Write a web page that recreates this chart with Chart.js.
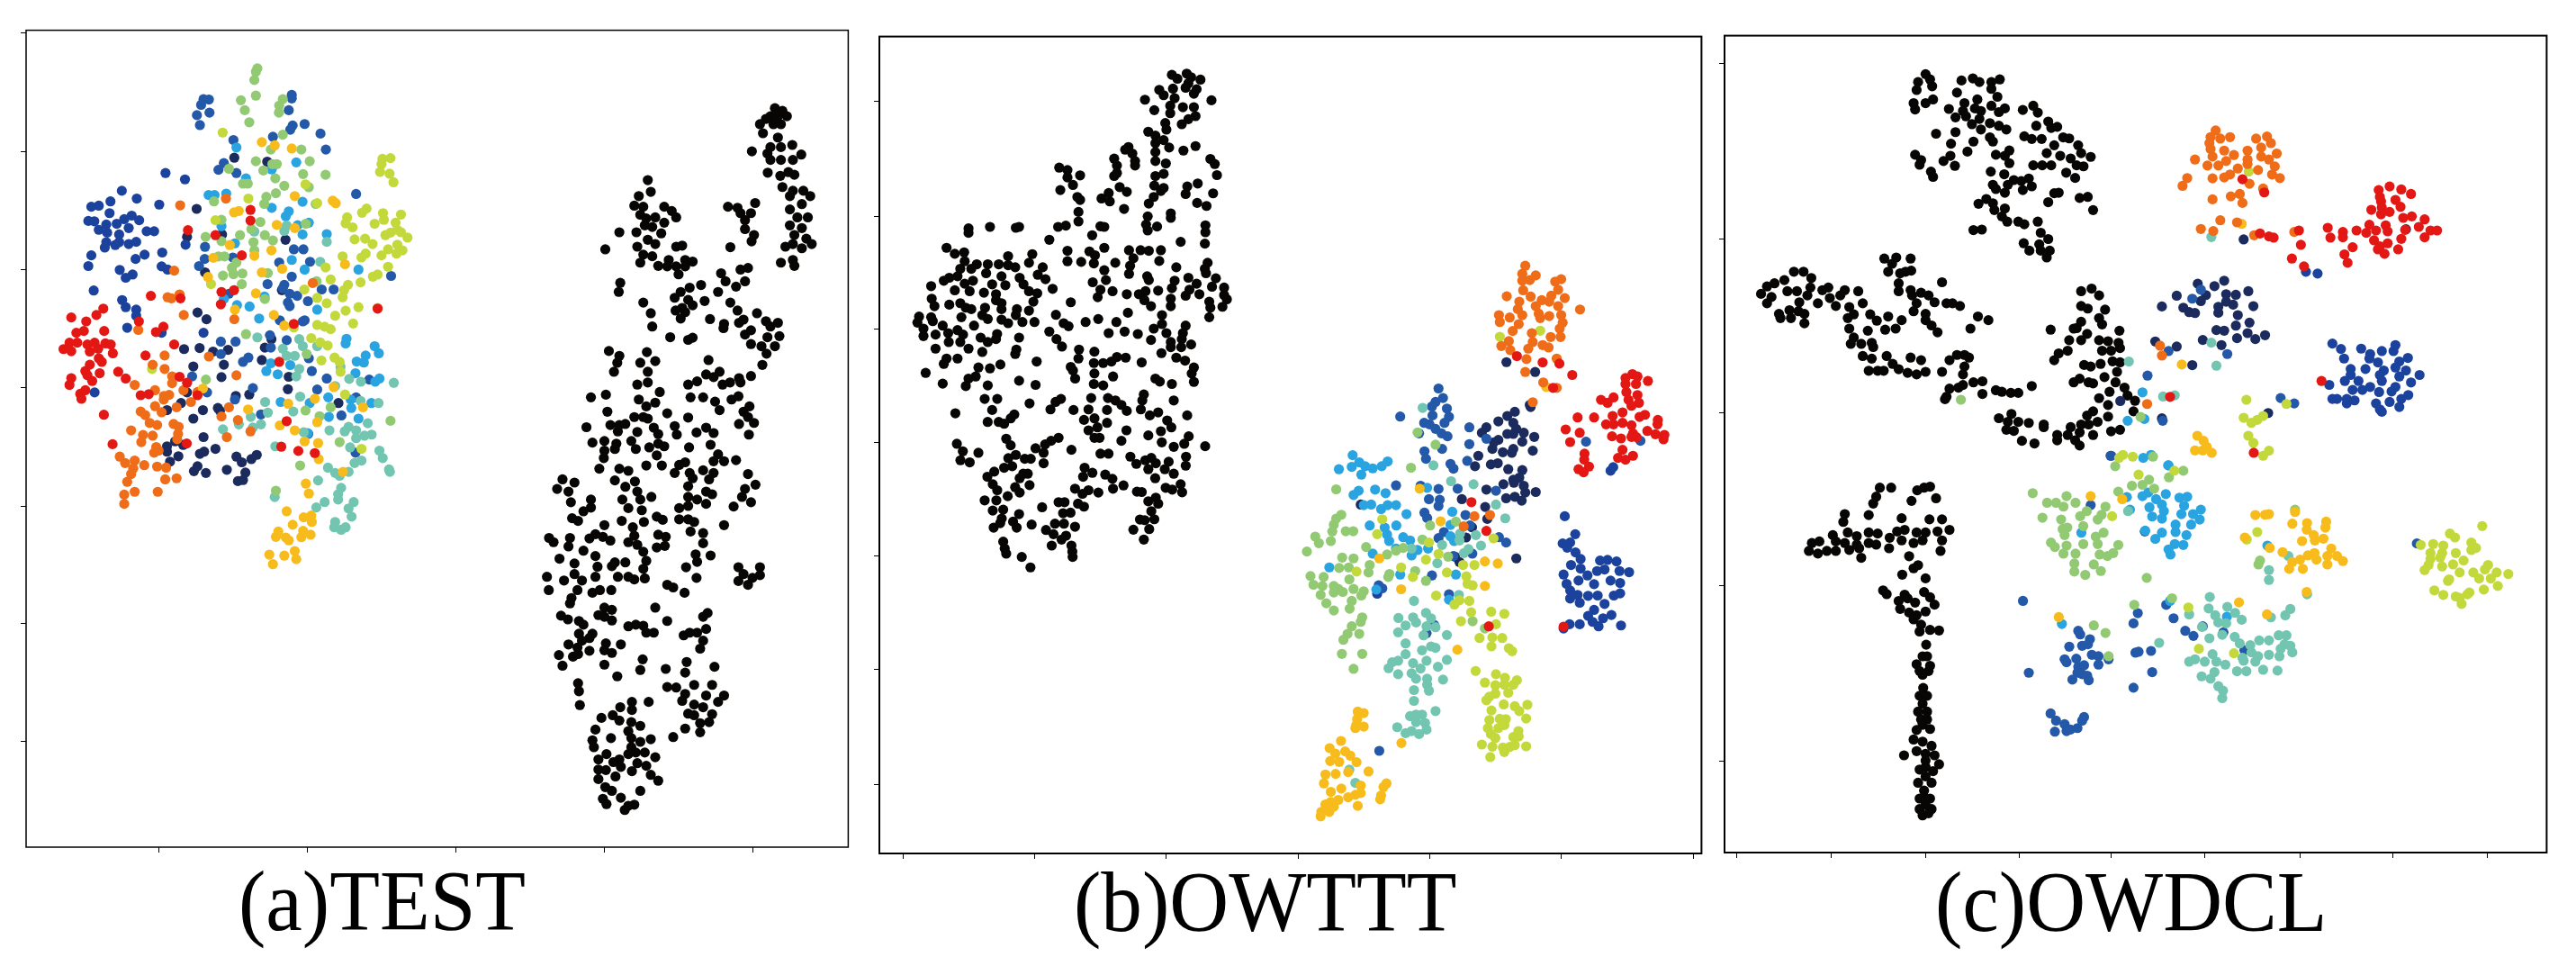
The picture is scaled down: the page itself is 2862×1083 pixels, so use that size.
<!DOCTYPE html>
<html>
<head>
<meta charset="utf-8">
<title>t-SNE comparison</title>
<script src="https://cdn.jsdelivr.net/npm/chart.js@4/dist/chart.umd.min.js"></script>
<style>
  html, body { margin: 0; background: #fff; width: 2862px; height: 1083px; overflow: hidden; }
  .panel { position: absolute; }
  .caption { position: absolute; font-family: "Liberation Serif", serif; font-size: 96px; line-height: 1; color: #000; transform: scaleX(.95); transform-origin: left top; white-space: nowrap; }
</style>
</head>
<body>
<div class="panel"><canvas id="chartA"></canvas></div>
<div class="panel"><canvas id="chartB"></canvas></div>
<div class="panel"><canvas id="chartC"></canvas></div>
<div class="caption" id="capA"></div>
<div class="caption" id="capB"></div>
<div class="caption" id="capC"></div>

<script>
"use strict";

// ---------- Data: readings [x, y] per class, one array per panel and per crop ----------
// (a) TEST
const aRoyal = [[407,480],[369,510],[457,502],[305,525],[330,522],[532,519],[553,430],[618,448],[366,543],[295,565],[315,566],[355,575],[390,573],[415,560],[440,550],[465,563],[430,585],[330,590],[358,598],[398,603],[490,594],[515,594],[398,625],[355,625],[430,630],[455,624],[350,640],[385,633],[305,662],[295,692],[453,672],[483,660],[542,654],[400,703],[443,716],[420,725],[540,693],[560,702],[313,761],[408,788],[420,808],[455,815],[455,832],[425,866],[316,1048],[680,880],[620,632],[540,880]];
const aBlue = [[680,222],[698,223],[672,238],[700,260],[658,267],[668,295],[975,210],[975,220],[965,253],[978,296],[970,308],[1018,292],[1071,319],[912,328],[1089,364],[780,337],[748,402],[730,421],[790,430],[1190,489],[685,638],[684,672],[665,692],[778,668],[933,682],[1036,680],[982,645],[1014,645],[975,722],[894,743],[950,745],[945,755],[968,770],[993,776],[962,795],[968,805],[1029,791],[1075,758],[1115,758],[1307,720],[765,770],[935,845],[1018,845],[1012,848],[738,905],[787,905],[902,887],[958,901],[905,922],[738,940],[830,950],[812,962],[1032,952],[1042,988],[1092,1009],[1234,1012],[845,1036],[1060,1040],[785,1068],[1190,1062],[1141,1113],[872,1110],[1030,1165],[1188,1218],[692,1048],[642,1003]];
const aNavy = [[783,387],[893,398],[657,531],[625,610],[742,603],[954,618],[685,710],[942,760],[660,823],[690,842],[907,898],[885,922],[615,926],[667,923],[712,933],[762,928],[748,970],[875,957],[646,975],[740,1005],[965,1004],[962,1039],[788,1058],[833,1054],[625,1048],[605,1078],[558,1098],[678,1098],[728,1092],[735,1100],[646,1122],[680,1174],[1131,1078],[585,1186],[612,1196],[558,1200],[558,1215],[720,1207],[668,1221],[682,1215],[596,1228],[568,1243],[790,1229],[808,1245],[840,1236],[858,1224],[660,1256],[648,1270],[688,1275],[758,1266],[820,1274],[812,1295],[795,1298]];
const aSky = [[790,358],[990,400],[908,420],[822,445],[697,492],[717,492],[756,488],[1011,511],[908,528],[965,538],[955,552],[740,580],[1032,570],[995,577],[1011,603],[1092,602],[785,628],[975,675],[1018,702],[1198,702],[884,778],[748,785],[792,802],[834,806],[866,840],[1060,815],[1158,897],[1155,910],[1252,918],[1266,938],[1222,944],[1192,961],[1216,964],[905,966],[970,971],[890,988],[928,997],[1188,994],[1268,1009],[1254,1018],[1097,1062],[1172,1068],[1035,1078],[938,1075],[1241,1078],[1174,1092],[1099,1117],[1198,1122],[1028,1163]];
const aTeal = [[850,595],[958,578],[950,593],[1092,624],[1070,680],[860,893],[1000,898],[945,925],[1012,918],[1060,918],[958,945],[985,945],[1000,982],[990,1003],[1138,976],[1167,1010],[1206,1018],[1316,1021],[1120,1030],[1003,1060],[886,1075],[1265,1078],[1205,1072],[980,1102],[895,1105],[838,1117],[872,1138],[845,1147],[798,1138],[745,1152],[1015,1160],[1229,1135],[1101,1155],[1165,1145],[1152,1158],[1190,1155],[1190,1177],[1218,1170],[1242,1167],[1170,1203],[920,1200],[1268,1212],[1279,1233],[1208,1240],[1185,1247],[1300,1265],[1303,1272],[1096,1260],[1120,1275],[1135,1283],[1165,1272],[1063,1296],[1140,1317],[1130,1335],[1130,1350],[1085,1357],[1057,1372],[1182,1357],[1165,1375],[1175,1398],[1120,1413],[1117,1428],[1140,1435],[1155,1428],[918,1343]];
const aGreen = [[860,135],[855,145],[850,168],[855,212],[805,225],[818,253],[833,287],[945,222],[933,240],[932,260],[945,322],[1007,364],[905,364],[855,397],[1035,397],[765,418],[880,423],[910,405],[925,405],[920,445],[1013,433],[1088,435],[812,460],[828,460],[950,466],[1032,470],[922,487],[890,497],[715,510],[883,517],[1055,517],[740,562],[870,568],[1022,573],[840,588],[687,610],[885,605],[802,605],[912,620],[740,622],[847,625],[850,648],[730,665],[750,665],[790,682],[775,697],[895,712],[810,713],[780,715],[745,719],[808,743],[1058,735],[885,785],[822,884],[1025,940],[688,1012],[1105,1090],[1021,1099],[1068,1115],[1305,1128],[1135,1188],[1003,1254],[922,1325]];
const aLime = [[744,316],[1021,462],[830,502],[1060,515],[1278,390],[1305,388],[1275,405],[1270,427],[1302,432],[1315,456],[1225,530],[1210,542],[1160,555],[1155,572],[1178,583],[1280,543],[1340,547],[1283,562],[1252,573],[1322,570],[1328,590],[1305,598],[1288,605],[1340,597],[1362,612],[1185,617],[1220,615],[1245,630],[1328,632],[1297,645],[1345,648],[1325,657],[1275,662],[1222,657],[1208,668],[1145,665],[1088,696],[1297,694],[1262,716],[1246,722],[1105,730],[1205,738],[1163,745],[1150,760],[1145,780],[1017,758],[1060,782],[1092,797],[1155,818],[1198,808],[1120,832],[1262,810],[1180,854],[1060,858],[1085,863],[1105,870],[1040,895],[1070,907],[1095,916],[1118,950],[1135,962],[1074,958],[1138,990],[508,982],[705,743],[720,563],[1153,1054],[1208,1207],[982,865]];
const aYellow = [[875,343],[918,352],[975,361],[985,495],[1112,508],[1122,515],[782,541],[798,537],[925,576],[985,585],[768,633],[850,663],[907,648],[713,669],[1153,687],[943,700],[875,710],[695,723],[855,769],[785,815],[915,830],[950,860],[678,1037],[1115,1033],[1052,1066],[963,1080],[829,1096],[1213,1090],[1060,1132],[935,1141],[985,1155],[1018,1186],[1063,1191],[1065,1236],[1146,1272],[1022,1305],[1032,1333],[958,1383],[1040,1395],[1015,1400],[1042,1413],[978,1421],[930,1440],[1013,1438],[1038,1449],[922,1455],[1007,1456],[955,1457],[965,1465],[985,1495],[900,1505],[950,1508],[990,1518],[912,1532]];
const aOrange = [[755,502],[602,521],[582,705],[600,772],[560,780],[573,783],[614,830],[783,842],[462,872],[1045,740],[510,970],[550,944],[698,947],[550,982],[790,1000],[575,1003],[575,1022],[450,1027],[518,1042],[613,1042],[660,1047],[565,1055],[548,1058],[547,1068],[638,1075],[518,1087],[765,1090],[590,1090],[470,1102],[485,1112],[540,1104],[740,1116],[795,1126],[500,1134],[525,1140],[580,1137],[597,1145],[837,1158],[438,1155],[595,1165],[592,1180],[478,1168],[510,1170],[472,1188],[758,1174],[522,1202],[530,1212],[515,1218],[400,1229],[418,1247],[450,1240],[445,1262],[482,1253],[525,1257],[555,1260],[438,1278],[590,1290],[552,1293],[425,1300],[450,1328],[527,1328],[415,1336],[415,1362]];
const aRed = [[837,534],[837,564],[628,591],[720,605],[808,662],[740,765],[782,760],[738,800],[504,776],[603,783],[345,812],[322,830],[238,837],[288,848],[464,848],[348,875],[280,875],[255,880],[546,863],[521,878],[1262,812],[982,855],[582,913],[258,908],[232,908],[212,926],[238,932],[292,913],[316,908],[352,910],[370,913],[300,933],[328,925],[377,938],[486,944],[330,952],[340,962],[300,970],[285,988],[333,994],[292,1000],[395,990],[420,1009],[308,1016],[238,1008],[232,1027],[600,1004],[625,1021],[285,1042],[268,1052],[272,1066],[470,1056],[497,1053],[660,1056],[933,962],[347,1111],[958,1129],[376,1194],[624,1192],[940,1201],[997,1213],[1052,1219]];
const aBlack = [[1090,165],[1115,170],[1075,180],[1100,180],[1130,180],[1060,185],[1040,195],[1085,195],[1110,195],[1050,212],[1100,220],[1013,246],[1075,238],[1110,238],[1148,234],[1065,250],[1075,262],[1110,262],[1150,262],[1178,252],[1066,286],[1108,292],[1135,285],[1155,290],[1115,313],[1140,330],[1150,320],[1185,320],[1208,330],[1140,355],[1180,345],[1165,370],[1200,370],[1140,385],[1180,390],[1155,403],[1195,410],[1213,420],[1125,425],[1150,420],[1180,428],[1110,455],[1150,450],[1155,461],[933,350],[965,352],[1024,343],[975,362],[1010,362],[990,375],[990,392],[1020,403],[1012,415],[941,426],[665,300],[675,322],[635,330],[620,348],[650,350],[720,350],[640,365],[660,372],[690,370],[745,358],[760,370],[655,385],[720,380],[680,388],[570,398],[627,398],[710,400],[665,412],[690,420],[630,425],[523,430],[650,440],[680,443],[640,455],[700,461],[760,425],[780,423],[735,450],[790,450],[815,453],[760,462],[790,462],[730,462],[768,477],[573,493],[568,510],[650,530],[675,550],[680,575],[740,595],[800,600],[815,596],[775,510],[805,502],[843,497],[755,521],[800,525],[855,527],[780,540],[815,535],[758,545],[790,548],[775,560],[873,561],[910,475],[900,510],[925,490],[960,500],[975,468],[1000,465],[990,490],[941,530],[965,545],[985,562],[970,568],[920,570],[918,578],[1030,550],[1010,582],[990,590],[1010,608],[1060,565],[1100,568],[1075,575],[1105,593],[1065,595],[1045,612],[1090,612],[1062,626],[1048,647],[535,621],[570,630],[563,643],[552,660],[662,623],[640,643],[690,640],[665,660],[630,684],[665,680],[705,698],[868,638],[800,684],[830,678],[860,665],[905,660],[885,670],[915,684],[940,680],[970,672],[975,680],[1010,668],[525,703],[475,708],[635,712],[690,718],[660,725],[808,708],[850,708],[890,716],[905,732],[945,712],[968,706],[1005,725],[985,735],[1000,745],[530,735],[730,738],[620,745],[650,745],[665,748],[800,746],[540,760],[570,760],[590,758],[460,764],[565,772],[630,773],[685,765],[700,777],[755,762],[762,778],[828,774],[860,765],[885,775],[970,758],[1020,756],[1003,778],[480,793],[520,790],[560,795],[555,805],[610,790],[625,805],[670,802],[700,795],[720,800],[803,802],[875,797],[520,808],[518,822],[695,817],[712,836],[660,836],[503,842],[570,842],[600,846],[900,815],[885,828],[920,828],[960,826],[790,830],[770,835],[755,850],[805,850],[850,845],[885,850],[815,860],[1000,852],[555,864],[622,866],[870,862],[800,875],[590,876],[380,862],[420,868],[362,880],[400,885],[630,885],[860,885],[880,890],[1025,872],[990,880],[980,895],[1010,905],[800,895],[830,900],[860,908],[408,905],[475,900],[580,900],[640,900],[677,895],[600,916],[645,920],[475,915],[450,922],[770,916],[800,912],[952,913],[412,935],[432,940],[578,940],[652,942],[695,932],[715,938],[770,937],[800,937],[820,942],[920,948],[520,948],[615,952],[808,960],[335,972],[350,980],[405,972],[490,965],[470,973],[515,970],[540,977],[620,968],[600,980],[700,966],[725,970],[850,963],[850,982],[400,988],[630,985],[695,990],[722,987],[650,998],[450,996],[490,1006],[825,1003],[875,1005],[370,1011],[660,1015],[830,1017],[420,1020],[497,1026],[555,1018],[545,1025],[590,1018],[650,1030],[793,1027],[968,1027],[1040,1027],[985,1040],[1040,1042],[420,1040],[490,1045],[328,1045],[385,1052],[445,1052],[565,1045],[600,1045],[620,1050],[655,1048],[828,1047],[968,1053],[1000,1060],[1015,1047],[730,1060],[750,1065],[334,1070],[430,1070],[480,1075],[505,1070],[543,1070],[788,1075],[410,1085],[405,1095],[690,1103],[520,1103],[545,1107],[500,1117],[520,1120],[375,1118],[398,1125],[435,1128],[450,1135],[545,1127],[865,1113],[850,1120],[730,1128],[600,1138],[625,1135],[650,1137],[660,1150],[685,1150],[435,1152],[480,1152],[470,1160],[785,1155],[805,1150],[830,1150],[860,1143],[445,1165],[400,1172],[430,1178],[575,1172],[525,1170],[850,1165],[840,1180],[520,1183],[545,1188],[470,1184],[368,1192],[415,1195],[432,1190],[648,1200],[795,1205],[380,1212],[520,1210],[640,1220],[725,1218],[790,1225],[888,1214],[563,1232],[432,1245],[435,1260],[730,1252],[760,1253],[820,1248],[880,1248],[790,1265],[860,1268],[920,1268],[780,1278],[820,1285],[850,1290],[900,1280],[612,1280],[668,1280],[573,1290],[438,1286],[612,1295],[800,1302],[880,1303],[510,1310],[548,1305],[640,1325],[570,1315],[610,1318],[820,1305],[490,1332],[600,1335],[870,1318],[790,1330],[840,1320],[840,1337],[750,1346],[542,1348],[480,1352],[610,1348],[640,1355],[675,1350],[485,1365],[610,1365],[625,1375],[600,1378],[655,1375],[527,1378],[500,1388],[570,1388],[550,1393],[690,1384],[575,1402],[630,1395],[660,1400],[500,1407],[525,1408],[612,1410],[500,1425],[557,1420],[675,1417],[700,1428],[523,1440],[545,1447],[640,1447],[515,1462],[575,1460],[527,1472],[620,1473],[600,1475],[588,1483]];

// (b) OWTTT
const bBlue = [[600,30],[615,62],[590,75],[578,90],[628,97],[472,124],[635,125],[580,120],[620,145],[552,145],[570,150],[590,165],[610,180],[630,190],[535,180],[703,160],[703,216],[760,198],[612,232],[553,240],[558,265],[696,272],[640,282],[650,298],[458,354],[600,366],[664,365],[792,372],[568,400],[604,402],[600,423],[690,453],[553,445],[562,463],[705,488],[618,510],[600,530],[802,527],[826,545],[713,582],[650,590],[578,655],[400,688],[412,698],[635,718],[585,820],[560,848],[1093,208],[1275,205],[402,1241],[540,355]];
const bRoyal = [[1022,457],[1057,517],[1015,548],[1040,545],[1030,562],[1058,578],[1075,600],[1043,620],[1075,632],[1098,655],[1140,605],[1165,603],[1195,608],[1130,640],[1155,635],[1205,640],[1237,644],[1018,652],[1068,672],[1120,684],[1175,672],[1207,680],[1028,683],[1040,705],[1065,720],[1100,723],[1132,722],[1186,722],[1207,715],[1040,732],[1072,746],[1155,750],[1120,770],[1178,787],[1100,790],[1150,798],[1115,810],[1135,825],[1072,818],[1210,822],[1038,818],[1018,832],[1175,305],[1184,293],[395,716]];
const bNavy = [[855,108],[830,122],[800,140],[850,145],[760,160],[745,178],[860,165],[830,182],[850,182],[885,178],[920,192],[800,202],[785,210],[880,208],[780,232],[850,232],[815,243],[845,245],[915,238],[733,255],[722,290],[775,284],[798,280],[833,300],[880,303],[850,335],[870,328],[817,350],[885,355],[852,345],[760,368],[925,376],[890,378],[678,400],[826,397],[855,392],[878,405],[756,426],[763,466],[908,92],[340,418],[712,494],[692,528],[655,592],[670,610],[860,598]];
const bNavyTop = [[47,392],[143,425],[125,535]];
const bSky = [[313,253],[335,277],[310,292],[267,300],[355,290],[380,297],[342,318],[410,290],[430,274],[333,372],[316,386],[388,368],[423,380],[562,362],[350,420],[375,418],[408,433],[430,420],[458,420],[493,450],[646,442],[370,488],[459,488],[420,495],[428,518],[435,540],[640,486],[482,527],[505,538],[640,524],[652,540],[380,582],[458,565],[530,570],[565,565],[510,588],[235,628],[472,652],[658,652],[392,702],[635,736]];
const bTeal = [[547,95],[583,287],[642,340],[717,350],[792,418],[823,464],[725,520],[672,515],[670,538],[612,553],[742,555],[700,567],[685,580],[510,565],[596,614],[668,720],[518,740],[558,780],[575,798],[515,795],[466,797],[525,812],[490,822],[560,825],[590,828],[465,845],[550,855],[628,854],[490,882],[575,892],[545,905],[590,897],[490,918],[465,940],[445,945],[433,965],[515,948],[560,940],[628,937],[598,960],[540,966],[465,985],[510,982],[525,1000],[562,1000],[615,1003],[562,1020],[518,1038],[568,1040],[518,1074],[590,1108],[525,1120],[505,1125],[545,1120],[525,1145],[555,1148],[462,1162],[490,1182],[510,1175],[535,1185],[560,1170],[302,1304],[322,1348]];
const bGreen = [[275,452],[258,465],[250,485],[245,508],[290,507],[315,507],[188,525],[200,547],[240,540],[160,575],[358,560],[258,367],[508,295],[590,218],[530,177],[572,488],[546,535],[658,475],[482,563],[458,572],[428,585],[278,595],[316,598],[370,620],[300,628],[268,630],[366,645],[436,650],[432,660],[522,640],[632,592],[172,657],[216,660],[302,668],[182,686],[558,673],[212,690],[250,690],[265,700],[250,712],[280,710],[316,700],[350,708],[342,722],[206,720],[225,748],[250,772],[310,740],[303,766],[345,795],[340,810],[310,825],[296,850],[335,850],[282,870],[277,917],[345,917],[316,967],[714,808],[755,832]];
const bLime = [[412,467],[395,517],[568,545],[784,531],[600,583],[558,602],[682,620],[720,620],[326,642],[475,628],[628,645],[514,660],[693,658],[697,683],[714,688],[592,722],[703,740],[670,738],[653,752],[709,778],[776,776],[820,783],[675,808],[792,818],[737,864],[780,862],[813,864],[777,892],[835,898],[846,908],[724,974],[792,985],[822,997],[862,1005],[755,1013],[790,1022],[820,1020],[850,1020],[833,1047],[770,1060],[790,1050],[760,1072],[818,1086],[855,1092],[897,1087],[777,1106],[870,1108],[893,1133],[770,1138],[805,1134],[825,1135],[765,1165],[820,1155],[800,1165],[867,1175],[775,1185],[790,1198],[850,1195],[868,1193],[745,1220],[780,1227],[855,1222],[893,1226],[815,1230],[820,1245],[838,1228],[773,1262]];
const bLimeTop = [[25,307],[160,287]];
const bYellow = [[537,365],[607,474],[402,598],[755,608],[798,615],[475,701],[755,690],[663,903],[476,1215],[330,1110],[350,1115],[328,1135],[325,1155],[322,1165],[350,1160],[274,1208],[236,1232],[288,1243],[255,1250],[305,1257],[238,1275],[268,1278],[326,1279],[366,1310],[298,1312],[256,1318],[222,1320],[217,1350],[426,1350],[340,1357],[275,1367],[240,1378],[416,1362],[340,1382],[322,1388],[298,1396],[265,1405],[408,1390],[405,1403],[240,1412],[222,1420],[250,1428],[330,1425],[235,1445],[208,1445],[206,1460]];
const bYellowTop = [[180,475]];
const bOrange = [[720,457],[772,453],[684,491]];
const bOrangeTop = [[110,70],[100,97],[145,102],[100,120],[125,118],[210,123],[230,115],[220,150],[103,152],[48,172],[128,173],[197,170],[242,178],[90,190],[165,185],[190,190],[145,205],[85,215],[220,205],[293,216],[22,235],[100,235],[155,230],[58,243],[160,245],[190,238],[230,235],[25,258],[88,265],[235,260],[68,288],[225,280],[132,295],[55,322],[195,308],[228,308],[30,338],[135,325],[168,335],[188,343],[120,347],[60,352],[114,382],[215,380],[110,425],[170,460],[215,478],[135,526]];
const bRed = [[1225,15],[1260,15],[1300,5],[1228,42],[1265,52],[1143,68],[1185,60],[1165,78],[1235,68],[1270,78],[1245,88],[1215,110],[1290,118],[1272,125],[1065,127],[1120,127],[1182,122],[1333,135],[1332,150],[1160,150],[1185,150],[1215,145],[1245,153],[1025,167],[1072,178],[1298,172],[1250,180],[1325,183],[1355,185],[1180,190],[1210,197],[1245,192],[1262,193],[1352,200],[1040,209],[1215,235],[1088,248],[1087,268],[1250,255],[1200,262],[1225,268],[1103,291],[1068,300],[1085,310],[710,410],[760,506],[768,825],[1018,826]];
const bRedTop = [[82,372],[168,393],[224,397],[267,435],[203,478],[468,432],[445,445],[485,440]];
const bBlackUpper = [[560,182],[587,178],[595,190],[612,198],[570,195],[590,210],[537,232],[562,228],[585,225],[605,230],[545,250],[565,260],[600,245],[511,265],[632,267],[557,285],[580,290],[600,290],[528,300],[557,310],[603,320],[590,330],[548,343],[578,347],[550,365],[517,372],[530,385],[545,400],[530,410],[555,425],[481,423],[603,420],[475,432],[530,440],[581,435],[488,445],[493,470],[493,485],[455,462],[460,485],[530,470],[549,478],[630,463],[638,480],[355,492],[370,500],[393,518],[370,525],[460,510],[455,520],[545,513],[530,520],[642,517],[380,550],[357,567],[465,557],[478,573],[607,545],[528,552],[545,560],[588,555],[585,580],[540,570],[635,578],[445,577],[432,595],[393,600],[388,590],[447,605],[527,590],[518,612],[606,610],[623,620],[473,630],[390,640],[558,645],[516,655],[558,660],[390,672],[513,682],[533,689],[621,685],[516,702],[621,708],[430,688],[353,690],[367,686],[437,690],[282,690],[276,693],[229,690],[190,695],[190,710],[415,718],[337,733],[576,740],[620,746],[150,760],[165,780],[182,775],[306,781],[370,770],[437,760],[410,772],[482,768],[503,768],[518,770],[540,768],[420,785],[262,788],[370,805],[395,807],[418,812],[490,795],[537,804],[457,810],[300,810],[183,805],[205,815],[225,815],[245,815],[262,818],[175,830],[195,830],[275,825],[325,825],[625,810],[484,820],[568,825],[620,830],[437,835],[622,845],[170,855],[155,860],[222,845],[250,855],[482,847],[316,850],[283,860],[330,865],[515,855],[145,870],[640,862],[440,868],[590,860],[518,868],[565,870],[198,870],[183,880],[290,882],[257,885],[122,888],[233,882],[416,875],[605,880],[560,895],[633,890],[343,897],[592,900],[655,893],[165,902],[192,905],[430,900],[452,905],[535,903],[218,910],[240,915],[300,905],[315,912],[478,915],[512,905],[500,915],[610,915],[655,918],[585,920],[660,932],[123,930],[240,935],[425,925],[128,955],[155,950],[175,945],[185,960],[250,945],[308,940],[376,942],[510,935],[558,930],[628,940],[522,955],[558,955],[195,965],[220,960],[278,965],[250,965],[300,970],[630,960],[652,957],[480,977],[177,992],[276,985],[100,990],[122,992],[215,985],[349,984],[542,985],[628,992],[97,1010],[225,998],[250,1000],[262,1012],[288,1008],[310,1008],[125,1005],[143,1020],[363,1012],[372,1022],[403,1008],[426,998],[459,1008],[542,1015],[585,1020],[108,1030],[200,1020],[527,1030],[108,1055],[130,1050],[153,1045],[170,1035],[180,1050],[337,1040],[445,1045],[474,1040],[498,1048],[550,1045],[580,1045],[242,1048],[212,1060],[240,1065],[282,1060],[175,1075],[154,1075],[225,1075],[350,1065],[522,1068],[558,1075],[578,1065],[595,1083],[130,1097],[190,1097],[215,1108],[277,1100],[360,1090],[391,1100],[558,1092],[577,1092],[275,1115],[419,1107],[150,1130],[170,1130],[541,1112],[390,1130],[460,1125],[476,1127],[568,1127],[145,1148],[248,1150],[314,1140],[418,1145],[435,1145],[450,1140],[505,1143],[584,1137],[208,1160],[229,1163],[376,1158],[112,1178],[600,1160],[380,1170],[596,1180],[419,1180],[203,1190],[190,1197],[143,1214],[185,1222],[282,1204],[384,1197],[453,1190],[530,1197],[538,1207],[312,1218],[600,1208],[560,1215],[418,1215],[435,1220],[225,1220]];
const bBlackLower = [[215,83],[313,35],[355,35],[338,72],[463,50],[550,45],[568,35],[533,70],[669,32],[725,32],[750,40],[770,55],[788,75],[845,20],[840,40],[835,70],[945,40],[990,90],[610,72],[660,70],[722,72],[645,105],[680,100],[722,115],[660,140],[690,130],[680,165],[697,165],[323,112],[360,112],[378,118],[400,100],[412,87],[865,90],[893,80],[923,107],[937,130],[902,143],[860,157],[787,140],[770,175],[995,160],[560,165],[535,175],[515,187],[385,168],[400,190],[220,185],[240,210],[292,215],[232,240],[263,247],[483,200],[510,215],[417,222],[392,233],[447,235],[467,235],[510,250],[603,205],[700,218],[727,218],[800,228],[905,180],[945,195],[980,185],[1050,193],[820,252],[850,240],[870,232],[885,250],[860,270],[928,245],[986,228],[985,258],[915,270],[945,285],[405,260],[378,265],[345,278],[322,295],[442,285],[457,285],[430,300],[647,265],[673,282],[642,295],[716,288],[740,302],[883,300],[340,320],[355,340],[463,323],[415,330],[430,348],[742,335],[777,324],[615,335],[660,340],[640,352],[693,348],[918,332],[940,338],[968,320],[973,347],[822,345],[838,346],[390,360],[313,374],[352,374],[560,380],[580,380],[625,385],[645,395],[885,365],[860,377],[893,385],[505,397],[375,405],[340,408],[428,420],[575,417],[600,415],[870,410],[832,438],[848,440],[880,437],[370,435],[408,445],[470,455],[548,452],[578,452],[615,462],[343,465],[365,450],[420,465],[518,473],[543,487],[570,505],[585,492],[863,470],[810,472],[845,505],[375,512],[537,525],[380,535],[603,525],[385,552],[606,545],[607,563],[437,563],[466,598]];

// (c) OWDCL
const cOrange = [[653,128],[640,150],[637,170],[665,155],[690,150],[757,155],[785,148],[795,170],[640,190],[675,195],[645,215],[700,210],[735,195],[770,185],[810,205],[600,225],[680,230],[735,225],[770,215],[790,225],[632,245],[660,245],[710,255],[735,240],[805,248],[762,260],[690,275],[675,285],[645,288],[798,275],[818,287],[580,287],[568,313],[740,306],[775,322],[645,358],[692,348],[715,340],[722,370],[665,428],[708,435],[615,457],[647,464],[752,478],[855,467],[510,847],[515,880],[477,1042]];
const cLimeTop = [[738,265],[732,1028],[835,1042],[725,1088],[745,1105],[760,1095],[775,1082],[737,1148],[750,1172],[790,1198],[775,1215],[405,1222],[440,1218],[415,1212]];
const cYellowTop = [[720,440],[566,910],[606,1148],[622,1165],[630,1185],[600,1197],[620,1197],[643,1205]];
const cTealTop = [[642,484],[642,837],[655,914],[430,900],[518,1017],[548,1013]];
const cRed = [[722,291],[778,335],[767,472],[790,482],[802,486],[867,462],[872,510],[849,556],[880,582],[941,453],[948,486],[980,467],[980,485],[1015,462],[1005,518],[984,542],[992,570],[1072,327],[1100,315],[1130,325],[1155,340],[1075,350],[1078,365],[1115,360],[1128,383],[1053,393],[1080,385],[1100,400],[1078,408],[1135,420],[1157,415],[1190,425],[1048,443],[1090,445],[1040,470],[1065,462],[1095,465],[1140,460],[1175,450],[1205,462],[1222,462],[1060,495],[1130,490],[1190,485],[1075,515],[1095,505],[1070,525],[1122,525],[1087,540],[925,965],[536,1018],[751,1205]];
const cNavy = [[607,640],[650,648],[675,630],[737,665],[553,680],[680,675],[705,677],[515,716],[628,678],[615,698],[660,717],[680,700],[698,710],[570,720],[585,735],[600,738],[660,737],[750,715],[710,745],[705,780],[740,770],[655,795],[675,797],[735,805],[780,812],[708,822],[755,825],[620,828],[668,845],[498,833],[553,850],[593,912],[725,492],[1142,458],[408,1032],[788,1072],[515,1090]];
const cBlueTop = [[615,660],[593,690],[532,865],[683,875],[478,947],[820,1022],[855,1040],[517,1098],[385,1215]];
const cRoyal = [[885,600],[915,606],[953,840],[975,858],[983,890],[1027,857],[1050,875],[1048,890],[1080,865],[1110,865],[1115,845],[1070,903],[1147,888],[1125,900],[1000,925],[1038,925],[1115,920],[1085,930],[1075,945],[1142,930],[1177,945],[1125,950],[1000,945],[1080,965],[985,965],[1020,965],[945,978],[1155,970],[1050,985],[1115,985],[1005,995],[1030,995],[1073,1002],[1105,1000],[965,1025],[1010,1030],[990,1040],[1148,1012],[1130,1025],[1100,1035],[1065,1040],[1125,1052],[1075,1060],[1080,1068],[953,1025],[990,1025]];
const cGreenTop = [[460,1085],[492,1218]];
const cSkyTop = [[465,1003],[427,1098],[470,1092],[467,1222],[487,1212],[531,1247]];
const cGreen = [[183,140],[220,172],[243,172],[262,185],[270,150],[293,172],[208,222],[305,217],[322,200],[350,228],[360,212],[370,185],[256,228],[313,250],[260,260],[272,255],[265,280],[345,285],[365,272],[230,305],[240,320],[270,315],[313,310],[350,310],[403,313],[262,342],[293,342],[355,345],[375,350],[390,340],[290,375],[340,378],[358,400],[290,402],[318,413],[476,423],[403,135],[438,115],[465,112],[482,95],[495,125],[533,87],[570,65],[395,50],[763,378],[767,365],[340,582],[370,607],[378,685],[444,513],[541,491],[857,195]];
const cLime = [[455,78],[547,65],[387,217],[583,522],[610,660],[700,675],[760,270],[733,295],[1180,313],[1212,310],[1238,315],[1205,340],[1235,340],[1205,360],[1230,355],[1270,340],[1255,275],[1268,288],[1338,250],[1310,305],[1322,323],[1310,330],[1290,365],[1263,378],[1200,380],[1190,397],[1235,385],[1280,405],[1353,380],[1315,405],[1345,395],[1375,405],[1405,410],[1330,425],[1360,425],[1378,450],[1342,462],[1253,428],[1250,433],[1215,465],[1238,480],[1270,485],[1300,478],[1280,490],[1285,510],[1305,472]];
const cSky = [[532,47],[425,153],[465,150],[480,138],[525,143],[433,195],[560,155],[580,152],[500,160],[483,187],[515,178],[520,200],[572,182],[490,218],[515,225],[615,195],[595,210],[565,210],[612,228],[550,245],[590,245],[472,265],[550,270],[578,280],[515,272],[498,293],[308,272],[548,310],[570,313],[532,328],[537,345],[258,577],[786,315],[682,553],[536,500]];
const cYellow = [[332,150],[413,160],[755,213],[780,212],[790,210],[857,203],[937,235],[850,242],[888,240],[935,255],[887,262],[905,280],[930,292],[875,300],[908,298],[728,288],[792,323],[825,337],[950,325],[907,340],[890,348],[850,370],[870,362],[940,350],[965,350],[980,367],[912,362],[940,378],[842,393],[877,393],[887,470],[713,505],[785,545],[250,554]];
const cTeal = [[428,200],[840,350],[790,397],[790,430],[888,478],[638,487],[585,545],[635,525],[652,548],[683,520],[703,540],[720,563],[660,572],[680,575],[845,527],[832,548],[795,555],[618,587],[637,625],[670,613],[702,620],[715,642],[742,648],[765,632],[790,632],[815,615],[835,615],[830,645],[845,650],[820,660],[850,672],[745,672],[790,680],[817,685],[508,640],[585,703],[600,695],[625,703],[645,678],[655,703],[722,690],[762,685],[755,703],[678,713],[708,735],[732,735],[775,730],[812,733],[650,738],[617,752],[640,760],[660,785],[672,800],[670,825],[725,700]];
const cBlue = [[383,15],[332,180],[471,268],[158,500],[526,513],[453,541],[442,575],[545,558],[300,600],[305,612],[330,628],[277,653],[310,650],[325,645],[335,680],[352,685],[352,713],[265,695],[270,705],[295,693],[300,720],[315,715],[447,673],[455,670],[487,667],[298,740],[310,745],[323,750],[327,765],[285,763],[173,740],[490,738],[442,790],[575,600],[596,617],[620,585],[673,605],[727,665],[229,876],[243,900],[265,912],[315,888],[310,900],[270,935],[298,925],[240,937],[280,930],[1170,308],[378,695]];
const cBlack = [[720,85],[695,100],[735,95],[690,115],[742,108],[680,140],[685,152],[720,140],[745,133],[840,97],[878,93],[900,100],[940,100],[968,95],[825,120],[893,133],[940,113],[960,128],[940,145],[850,140],[798,151],[985,150],[965,157],[845,155],[885,150],[905,155],[820,167],[855,165],[900,170],[875,180],[935,178],[965,183],[990,190],[905,190],[935,205],[945,213],[755,198],[820,195],[805,217],[880,213],[860,232],[1045,153],[1080,145],[1095,158],[1130,175],[1090,183],[1140,187],[1160,185],[1180,205],[1050,203],[1075,208],[1108,208],[1200,207],[1150,220],[1230,220],[1125,235],[1170,240],[1240,235],[1272,242],[685,238],[705,248],[700,257],[803,240],[780,250],[818,259],[955,238],[985,240],[1000,230],[1000,254],[1205,245],[1080,258],[1110,258],[1140,258],[1225,258],[1248,260],[1190,272],[1220,282],[738,270],[745,280],[938,270],[983,275],[1015,286],[1040,288],[1065,283],[1075,298],[1045,305],[945,295],[955,303],[995,295],[985,310],[1165,310],[1150,311],[1235,320],[1262,318],[1130,328],[897,331],[923,322],[945,330],[950,343],[985,340],[975,355],[1280,343],[993,365],[1030,365],[1050,370],[1095,365],[880,381],[908,380],[1105,386],[1130,398],[1048,406],[1100,408],[1067,420],[1105,420],[1135,420],[1125,433],[582,435],[622,433],[670,435],[608,445],[672,458],[595,460],[635,463],[653,460],[280,460],[312,460],[338,472],[248,476],[775,480],[215,482],[190,488],[395,490],[630,482],[258,497],[290,497],[170,502],[205,508],[335,490],[375,495],[450,495],[495,497],[630,497],[670,495],[705,500],[325,505],[400,510],[435,505],[675,505],[730,505],[190,520],[298,518],[360,520],[420,525],[465,527],[510,520],[690,520],[750,518],[790,520],[835,525],[810,520],[680,535],[720,540],[265,533],[295,535],[230,540],[315,540],[270,548],[235,548],[315,558],[480,541],[460,548],[535,541],[720,552],[595,545],[640,552],[895,545],[930,552],[557,553],[740,562],[465,568],[585,570],[620,568],[527,572],[760,575],[870,568],[480,585],[470,597],[505,597],[540,595],[545,603],[510,620],[540,625],[590,620],[670,623],[705,628],[610,635],[800,628],[825,618],[850,618],[865,623],[630,645],[530,648],[560,648],[580,648],[660,652],[690,655],[720,650],[775,650],[850,640],[845,655],[845,675],[880,670],[910,668],[830,680],[800,682],[790,697],[785,702],[910,692],[955,685],[975,688],[1005,690],[1030,690],[1075,677],[1240,497],[1275,492],[1300,505],[1240,525],[1262,530],[1320,532],[1300,548],[1240,555],[1225,567],[1138,570],[1215,568],[1310,560],[1260,578],[1368,572],[1300,590],[1200,590],[1240,590],[1330,592],[1365,595],[1370,605],[1165,615],[1195,610],[1150,628],[1310,610],[1340,610],[1345,630],[1370,632],[1250,637],[1272,640],[1305,635],[1360,650],[1318,660],[1215,670],[1235,663],[1265,670],[1280,672],[1355,670],[1385,680],[1335,688],[1395,695],[1300,700],[1330,713],[1420,705],[1415,725],[1280,725],[1260,733],[1295,745],[1330,735],[1265,750],[1240,750],[1205,755],[965,738],[1007,730],[995,745],[1030,745],[1065,747],[990,760],[1015,762],[1115,750],[1115,755],[1235,765],[1195,770],[1160,770],[1160,780],[1280,770],[1340,763],[1370,760],[1220,780],[1235,790],[1042,781],[1084,786],[567,870],[605,870],[692,875],[715,870],[735,868],[555,887],[673,895],[755,890],[545,900],[450,920],[530,922],[640,928],[733,930],[775,930],[445,935],[460,955],[410,960],[530,955],[560,957],[625,953],[650,950],[690,955],[720,955],[760,953],[800,950],[490,962],[600,965],[710,970],[340,975],[365,972],[420,972],[450,975],[490,978],[530,975],[555,978],[640,970],[680,975],[775,970],[330,990],[360,995],[390,990],[420,990],[465,988],[498,985],[598,985],[770,990],[505,1003],[665,1000],[695,1017],[680,1023],[642,1035],[720,1042],[578,1065],[590,1072],[715,1068],[650,1073],[735,1078],[630,1085],[685,1088],[660,1080],[750,1092],[635,1100],[665,1107],[720,1105],[690,1112],[680,1120],[705,1130],[700,1143],[735,1140],[765,1141],[722,1168],[710,1190],[725,1190],[690,1205],[735,1208],[700,1218],[730,1218],[710,1225],[712,1250],[700,1265],[725,1265],[710,1280],[695,1295],[725,1295],[705,1310],[725,1310],[690,1330],[735,1328],[680,1348],[710,1352],[740,1360],[648,1378],[690,1370],[720,1375],[750,1378],[720,1388],[765,1395],[700,1405],[745,1408],[720,1418],[695,1430],[740,1430],[715,1445],[700,1460],[735,1460],[720,1472],[700,1480],[740,1480],[710,1492],[730,1488],[720,1460],[720,1400],[710,1320]];
const cGreenBlackRow = [[838,703]];

// Tick values on each axis
const aTicksX = [177, 342.5, 508, 673.5, 839];
const aTicksY = [34, 166, 298, 429, 561, 692, 823];
const bTicksX = [1004, 1150, 1296, 1444, 1590, 1737, 1884];
const bTicksY = [110, 238, 364, 490, 617, 743, 871];
const cTicksX = [1930, 2035, 2140, 2244, 2347, 2451, 2557, 2661, 2766];
const cTicksY = [68, 264, 457, 650, 845];

const captions = ["(a)TEST", "(b)OWTTT", "(c)OWDCL"];

// ---------- Styles ----------
const colors = {
  black: "#070605", navy: "#1c2b5e", royal: "#1b429c", blue: "#2359a8", sky: "#29a4e0", teal: "#72c5b0",
  green: "#92c973", lime: "#c3d93b", yellow: "#f7bc1b", orange: "#ef6c18", red: "#e31713",
};

// Reading scale of each crop: origin and magnification
const crops = {
  a1: { x: 0, y: 20, sx: 3, sy: 2.529 },
  a2: { x: 500, y: 20, sx: 3, sy: 1.686 },
  b3: { x: 960, y: 20, sx: 1.633, sy: 3 },
  b4: { x: 1400, y: 420, sx: 3, sy: 3 },
  b10: { x: 990, y: 430, sx: 3, sy: 3 },
  b11: { x: 1660, y: 270, sx: 3, sy: 3 },
  c5: { x: 1900, y: 30, sx: 3, sy: 1.704 },
  c6: { x: 2180, y: 100, sx: 2.306, sy: 3 },
  c7: { x: 2180, y: 500, sx: 2.306, sy: 3 },
};

const toPoints = (list, crop) => list.map(([x, y]) => ({ x: crop.x + x / crop.sx, y: crop.y + y / crop.sy }));

// First listed is painted on top
const panels = [
  {
    id: "chartA", caption: "capA", capLeft: 265, baseline: 1033,
    frame: { left: 29, right: 945, top: 31, bottom: 941 }, ticksX: aTicksX, ticksY: aTicksY, border: 1.5,
    series: [
      ["red", [[aRed, crops.a1]]], ["yellow", [[aYellow, crops.a1]]], ["orange", [[aOrange, crops.a1]]],
      ["lime", [[aLime, crops.a1]]], ["green", [[aGreen, crops.a1]]], ["teal", [[aTeal, crops.a1]]],
      ["sky", [[aSky, crops.a1]]], ["blue", [[aBlue, crops.a1]]], ["royal", [[aRoyal, crops.a1]]],
      ["navy", [[aNavy, crops.a1]]], ["black", [[aBlack, crops.a2]]],
    ],
  },
  {
    id: "chartB", caption: "capB", capLeft: 1193, baseline: 1034,
    frame: { left: 977, right: 1893, top: 38, bottom: 948 }, ticksX: bTicksX, ticksY: bTicksY, border: 2,
    series: [
      ["red", [[bRed, crops.b4], [bRedTop, crops.b11]]], ["orange", [[bOrange, crops.b4], [bOrangeTop, crops.b11]]],
      ["yellow", [[bYellow, crops.b4], [bYellowTop, crops.b11]]], ["lime", [[bLime, crops.b4], [bLimeTop, crops.b11]]],
      ["green", [[bGreen, crops.b4]]], ["teal", [[bTeal, crops.b4]]], ["sky", [[bSky, crops.b4]]],
      ["blue", [[bBlue, crops.b4]]], ["royal", [[bRoyal, crops.b4]]], ["navy", [[bNavy, crops.b4], [bNavyTop, crops.b11]]],
      ["black", [[bBlackUpper, crops.b3], [bBlackLower, crops.b10]]],
    ],
  },
  {
    id: "chartC", caption: "capC", capLeft: 2150, baseline: 1034,
    frame: { left: 1916, right: 2832, top: 37, bottom: 947 }, ticksX: cTicksX, ticksY: cTicksY, border: 2,
    series: [
      ["red", [[cRed, crops.c6]]], ["orange", [[cOrange, crops.c6]]], ["yellow", [[cYellow, crops.c7], [cYellowTop, crops.c6]]],
      ["lime", [[cLime, crops.c7], [cLimeTop, crops.c6]]], ["green", [[cGreen, crops.c7], [cGreenTop, crops.c6], [cGreenBlackRow, crops.c5]]],
      ["teal", [[cTeal, crops.c7], [cTealTop, crops.c6]]], ["sky", [[cSky, crops.c7], [cSkyTop, crops.c6]]],
      ["blue", [[cBlue, crops.c7], [cBlueTop, crops.c6]]], ["royal", [[cRoyal, crops.c6]]], ["navy", [[cNavy, crops.c6]]],
      ["black", [[cBlack, crops.c5]]],
    ],
  },
];

// ---------- Chart ----------
const TICK_LEN = 6;
const PAD = 3;

const framePlugin = {
  id: "frame",
  afterDraw(chart, args, opts) {
    const { ctx, chartArea: a } = chart;
    ctx.save();
    ctx.strokeStyle = "#000";
    ctx.lineWidth = opts.width;
    ctx.strokeRect(a.left, a.top, a.right - a.left, a.bottom - a.top);
    ctx.restore();
  },
};

function axis(min, max, ticks, reverse, size) {
  return {
    type: "linear",
    min, max, reverse,
    border: { display: false },
    grid: { drawOnChartArea: false, drawTicks: true, tickLength: TICK_LEN, color: "#000", lineWidth: 1 },
    ticks: { display: false, autoSkip: false },
    afterBuildTicks: (s) => { s.ticks = ticks.map((value) => ({ value })); },
    afterFit: (s) => { s[size] = TICK_LEN; },
  };
}

panels.forEach((p, i) => {
  const f = p.frame;
  const canvas = document.getElementById(p.id);
  const box = canvas.parentElement;
  box.style.left = f.left - TICK_LEN - PAD + "px";
  box.style.top = f.top - PAD + "px";
  canvas.width = f.right - f.left + TICK_LEN + 2 * PAD;
  canvas.height = f.bottom - f.top + TICK_LEN + 2 * PAD;

  new Chart(canvas, {
    type: "scatter",
    data: {
      datasets: p.series.map(([name, parts]) => ({
        label: name,
        data: parts.flatMap(([list, crop]) => toPoints(list, crop)),
        pointRadius: 5.6,
        pointBorderWidth: 0,
        backgroundColor: colors[name],
      })),
    },
    options: {
      responsive: false,
      animation: false,
      layout: { padding: PAD },
      plugins: { legend: { display: false }, tooltip: { enabled: false }, frame: { width: p.border } },
      scales: {
        x: axis(f.left, f.right, p.ticksX, false, "height"),
        y: axis(f.top, f.bottom, p.ticksY, true, "width"),
      },
    },
    plugins: [framePlugin],
  });

  const cap = document.getElementById(p.caption);
  cap.textContent = captions[i];
  cap.style.left = p.capLeft + "px";
  cap.style.top = p.baseline - 80 + "px";
});
</script>
</body>
</html>
